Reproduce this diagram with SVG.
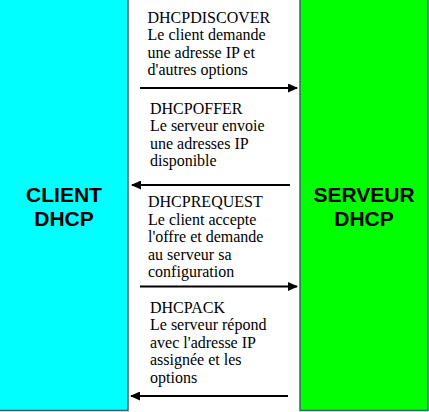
<svg xmlns="http://www.w3.org/2000/svg" width="429" height="412" viewBox="0 0 429 412">
<style>
.box{stroke:#3a6464;stroke-width:1.5}
.lbl{font-family:"Liberation Sans",Arial,sans-serif;font-weight:bold;font-size:21px;text-anchor:middle;fill:#000}
.msg{font-family:"Liberation Serif","Times New Roman",serif;font-size:16px;fill:#000}
.arr{stroke:#000;stroke-width:2;fill:none}
</style>
<defs>
<marker id="ah" markerWidth="10" markerHeight="9" refX="9" refY="4.5" orient="auto" markerUnits="userSpaceOnUse">
<path d="M0,0 L10,4.5 L0,9 z" fill="#000"/>
</marker>
</defs>
<rect width="429" height="412" fill="#fff"/>
<g id="client">
<rect class="box" x="-2" y="-2" width="130" height="412.5" fill="#00ffff"/>
<text class="lbl" x="64" y="202">CLIENT</text>
<text class="lbl" x="64" y="226">DHCP</text>
</g>
<g id="serveur">
<rect class="box" x="300" y="-2" width="128" height="412.5" fill="#00ff00"/>
<text class="lbl" x="364" y="202">SERVEUR</text>
<text class="lbl" x="364" y="226">DHCP</text>
</g>
<g id="connectors">
<line class="arr" x1="140" y1="88" x2="297" y2="88" marker-end="url(#ah)"/>
<line class="arr" x1="290" y1="185" x2="132" y2="185" marker-end="url(#ah)"/>
<line class="arr" x1="140" y1="286.5" x2="297" y2="286.5" marker-end="url(#ah)"/>
<line class="arr" x1="288" y1="396" x2="131" y2="396" marker-end="url(#ah)"/>
</g>
<g id="discover">
<text class="msg" x="147.5" y="23">DHCPDISCOVER</text>
<text class="msg" x="147.5" y="40.4">Le client demande</text>
<text class="msg" x="147.5" y="57.8">une adresse IP et</text>
<text class="msg" x="147.5" y="75.2">d'autres options</text>
</g>
<g id="offer">
<text class="msg" x="150" y="114">DHCPOFFER</text>
<text class="msg" x="150" y="131.4">Le serveur envoie</text>
<text class="msg" x="150" y="148.8">une adresses IP</text>
<text class="msg" x="150" y="166.2">disponible</text>
</g>
<g id="request">
<text class="msg" x="148" y="207.3">DHCPREQUEST</text>
<text class="msg" x="148" y="224.7">Le client accepte</text>
<text class="msg" x="148" y="242.1">l'offre et demande</text>
<text class="msg" x="148" y="259.5">au serveur sa</text>
<text class="msg" x="148" y="276.9">configuration</text>
</g>
<g id="ack">
<text class="msg" x="150" y="313">DHCPACK</text>
<text class="msg" x="150" y="330.4">Le serveur répond</text>
<text class="msg" x="150" y="347.8">avec l'adresse IP</text>
<text class="msg" x="150" y="365.2">assignée et les</text>
<text class="msg" x="150" y="382.6">options</text>
</g>
</svg>
